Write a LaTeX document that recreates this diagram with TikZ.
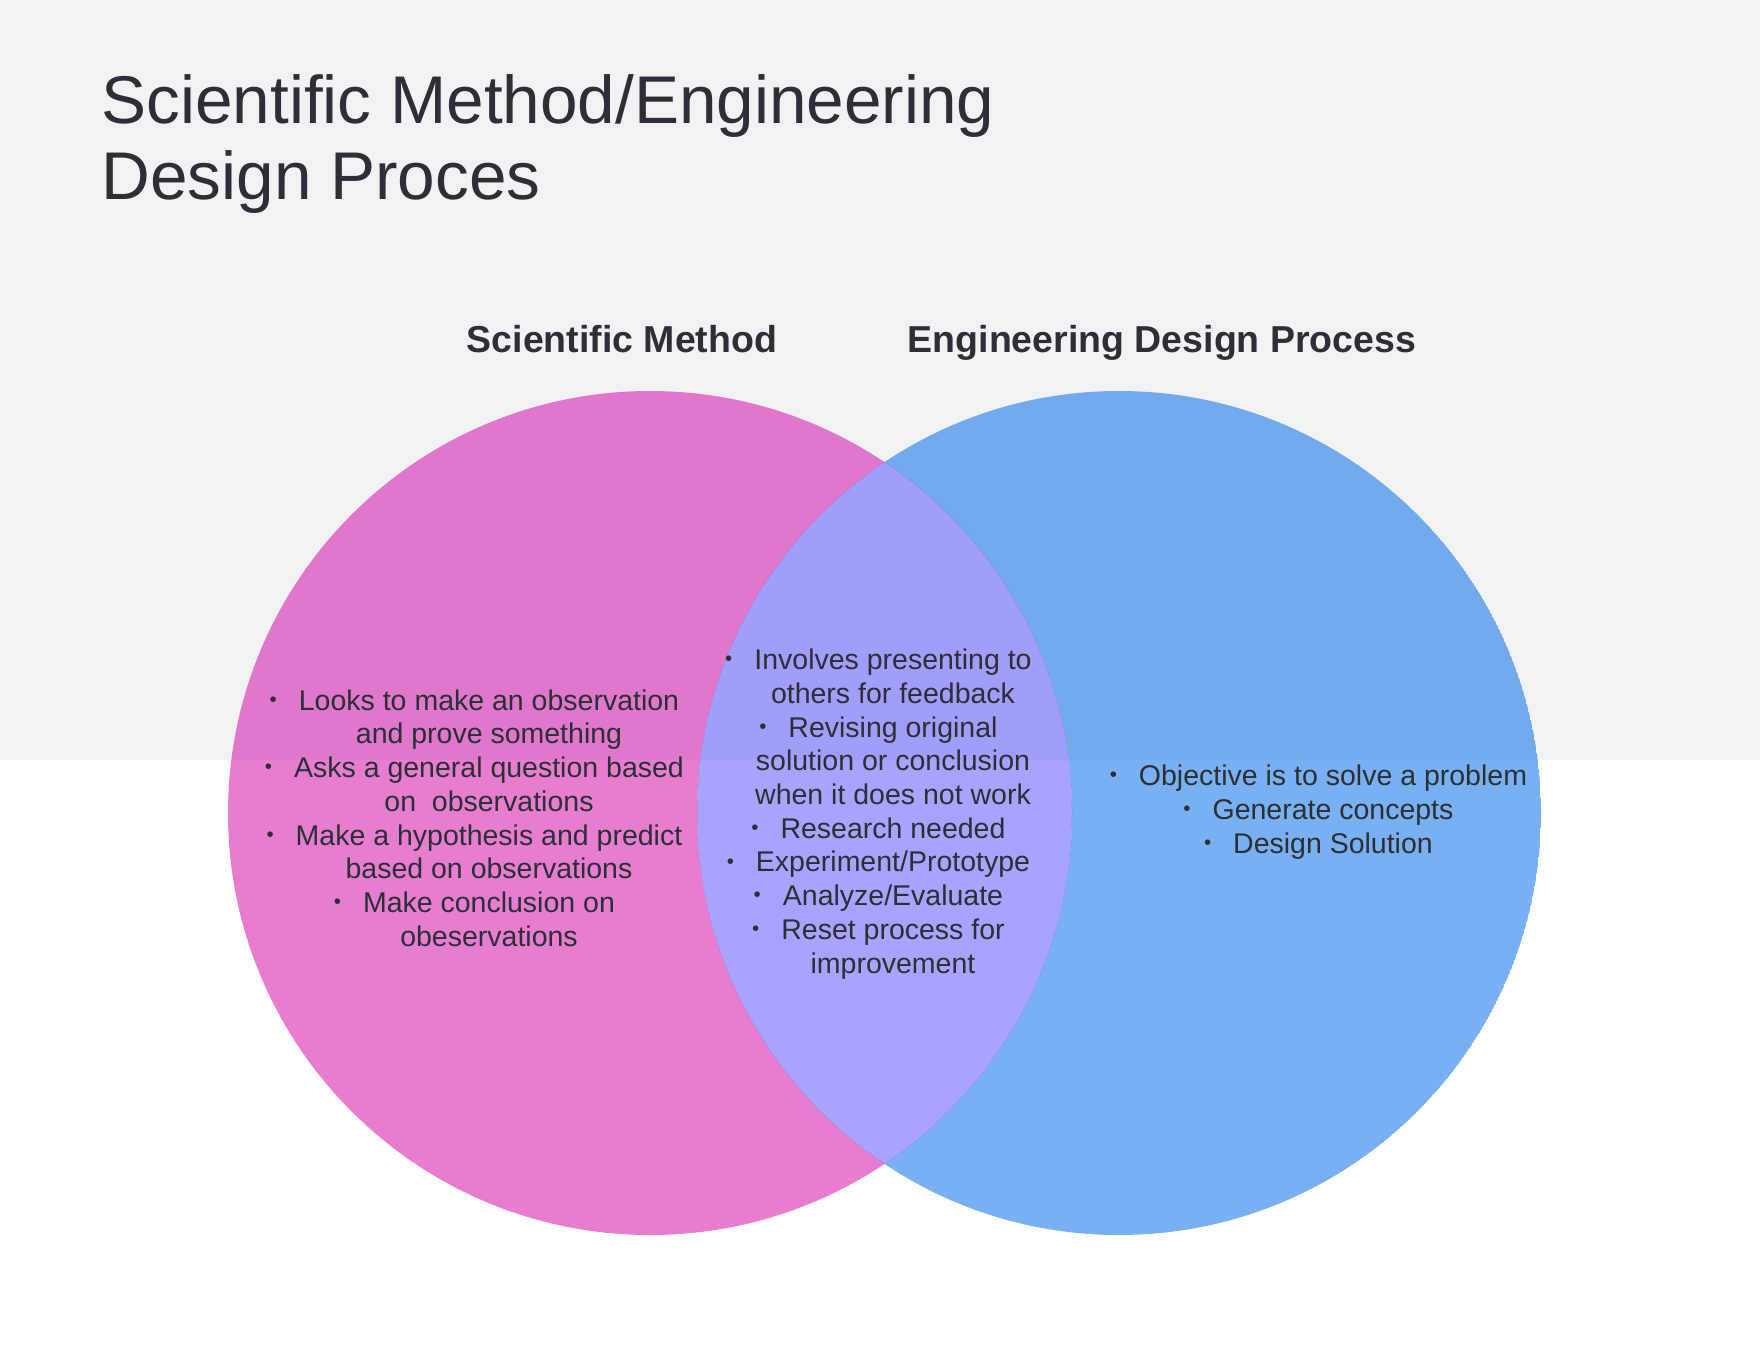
\documentclass[tikz,border=0pt]{standalone}
\usepackage{fontspec}
\setmainfont{Liberation Sans}
\usepackage{xcolor}
\definecolor{pagegrey}{HTML}{F1F2F4}
\definecolor{inkdark}{HTML}{2B2F36}
\definecolor{sciPink}{RGB}{213,19,170}
\definecolor{engBlue}{RGB}{11,111,231}
\definecolor{mixViolet}{RGB}{97,88,255}
\newcommand{\bul}{\llap{\raisebox{0.25ex}{\scalebox{0.72}{\textbullet}}\hspace{22pt}}}

\begin{document}
\begin{tikzpicture}[
    x=1pt, y=-1pt,
    title/.style={anchor=base west, align=left, text=inkdark, font=\fontsize{67.5}{76}\selectfont},
    heading/.style={anchor=base, text=inkdark, font=\bfseries\fontsize{37.5}{40}\selectfont},
    items/.style={align=center, text=inkdark, font=\fontsize{28.5}{33.7}\selectfont},
    ring/.style={circle, minimum size=844pt, inner sep=0pt},
    tint/.style={fill opacity=0.55}
  ]
    \useasboundingbox (0,0) rectangle (1760,1360);
    \fill[pagegrey] (0,0) rectangle (1760,760);

    \node[ring] (sci) at (650,813) {};
    \node[ring] (eng) at (1119,813) {};

    % the two crescents, then the lens
    \begin{scope}
      \clip (sci.center) circle[radius=422];
      \fill[sciPink, tint, even odd rule] (sci.center) circle[radius=422] (eng.center) circle[radius=422];
    \end{scope}
    \begin{scope}
      \clip (eng.center) circle[radius=422];
      \fill[engBlue, tint, even odd rule] (eng.center) circle[radius=422] (sci.center) circle[radius=422];
    \end{scope}
    \begin{scope}
      \clip (sci.center) circle[radius=422];
      \fill[mixViolet, tint] (eng.center) circle[radius=422];
    \end{scope}

    \node[title] (ttl) at (98,199) {Scientific Method/Engineering\\Design Proces};
    \node[heading] (sciHead) at (622,352) {Scientific Method};
    \node[heading] (engHead) at (1162,352) {Engineering Design Process};

    \node[items] (sciList) at (489,818) {\bul Looks to make an observation\\and prove something\\\bul Asks a general question based\\on\ \ observations\\\bul Make a hypothesis and predict\\based on observations\\\bul Make conclusion on\\obeservations};
    \node[items] (bothList) at (893,814) {\bul Involves presenting to\\others for feedback\\\bul Revising original\\solution or conclusion\\when it does not work\\\bul Research needed\\\bul Experiment/Prototype\\\bul Analyze/Evaluate\\\bul Reset process for\\improvement};
    \node[items] (engList) at (1333,812) {\bul Objective is to solve a problem\\\bul Generate concepts\\\bul Design Solution};
\end{tikzpicture}
\end{document}
